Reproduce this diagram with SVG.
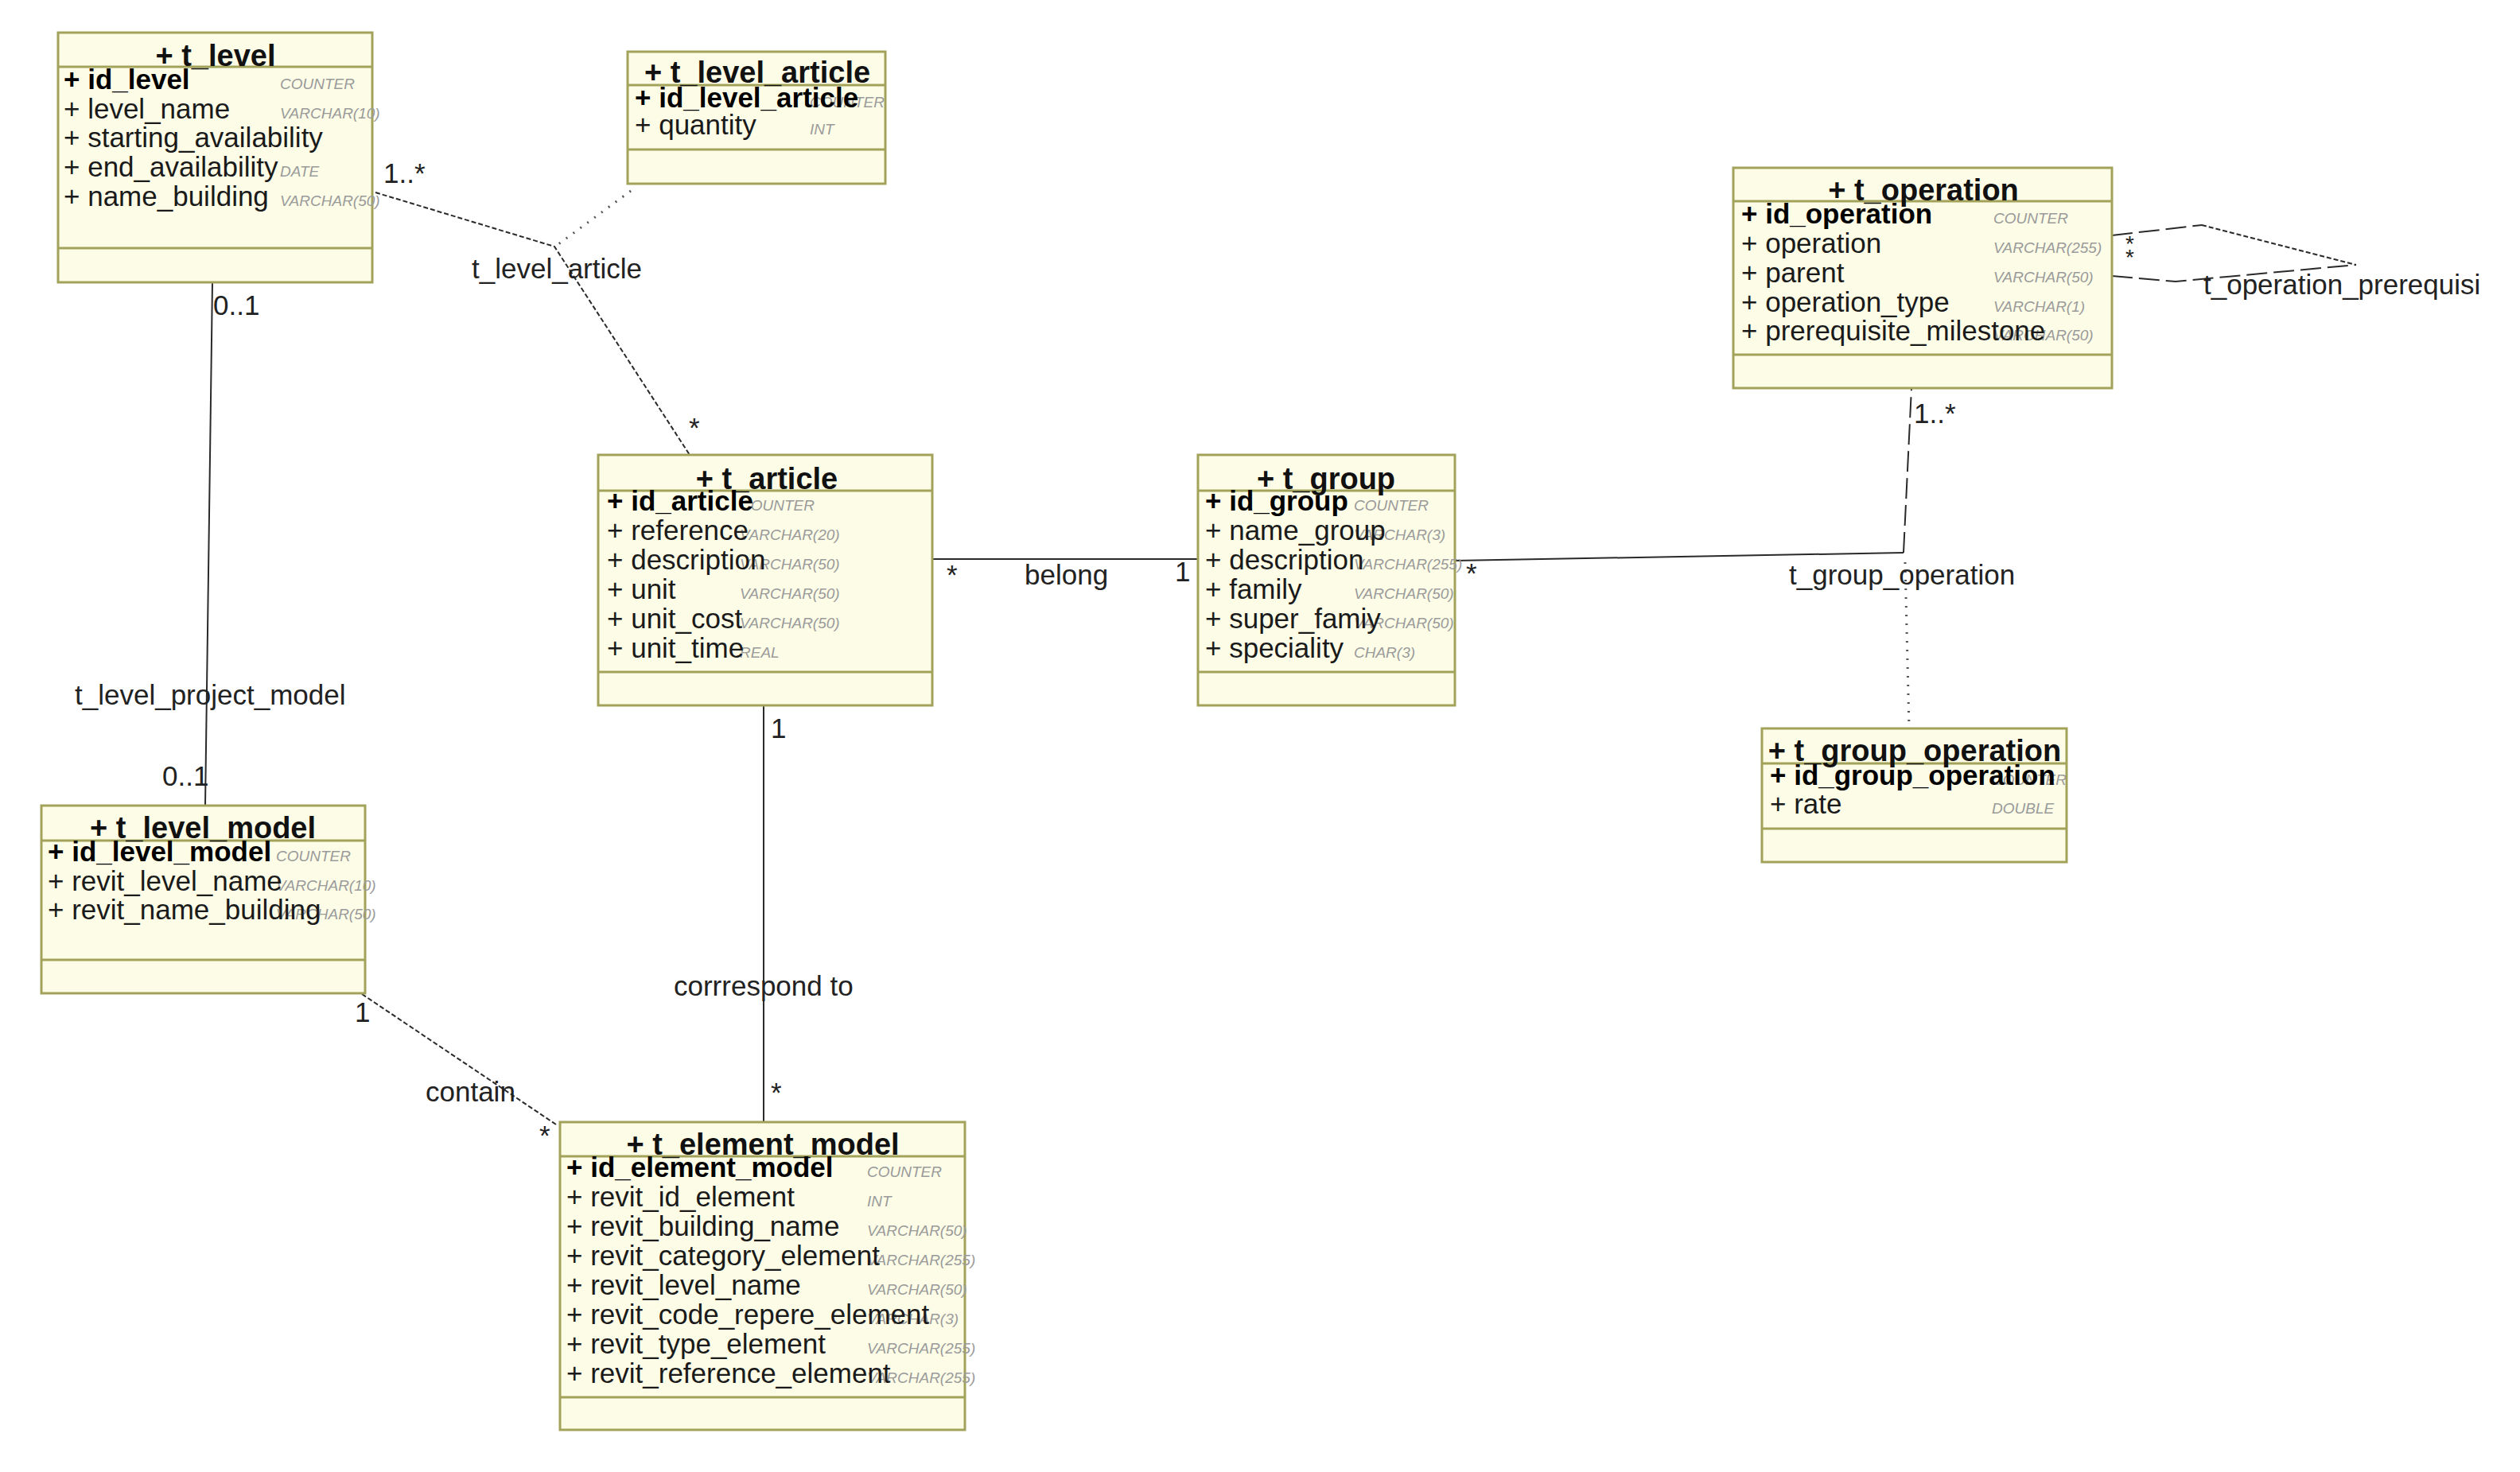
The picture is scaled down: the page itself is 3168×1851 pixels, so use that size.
<svg xmlns="http://www.w3.org/2000/svg" width="3168" height="1851" viewBox="0 0 3168 1851">
<style>
.box{fill:#fdfde7;stroke:#a2a25a;stroke-width:3}
.sep{stroke:#a2a25a;stroke-width:3}
.title{font-family:"Liberation Sans",Arial,sans-serif;font-weight:bold;font-size:38px;fill:#111;text-anchor:middle}
.attr{font-family:"Liberation Sans",Arial,sans-serif;font-size:35px;fill:#1a1a1a}
.pk{font-weight:bold;fill:#000}
.type{font-family:"Liberation Sans",Arial,sans-serif;font-style:italic;font-size:19px;fill:#9a9a9a}
.lbl{font-family:"Liberation Sans",Arial,sans-serif;font-size:35px;fill:#222}
.star{font-family:"Liberation Sans",Arial,sans-serif;font-size:28px;fill:#222}
.ln{fill:none;stroke:#2a2a2a;stroke-width:2}
.dash{fill:none;stroke:#2a2a2a;stroke-width:2;stroke-dasharray:26 8}
.fine{fill:none;stroke:#2a2a2a;stroke-width:2;stroke-dasharray:6 3}
.dot{fill:none;stroke:#555;stroke-width:3;stroke-dasharray:2 9}
</style>
<rect width="3168" height="1851" fill="#ffffff"/>

<g id="connectors">
  <polyline class="fine" points="472,242 697,310 867,572"/>
  <line class="dot" x1="793" y1="240" x2="702" y2="307"/>
  <line class="ln" x1="267" y1="355" x2="258" y2="1013"/>
  <line class="fine" x1="455" y1="1250" x2="699" y2="1414"/>
  <line class="ln" x1="960" y1="887" x2="960" y2="1411"/>
  <line class="ln" x1="1172" y1="703" x2="1506" y2="703"/>
  <polyline class="ln" points="1829,705 2393,695"/>
  <polyline class="dash" points="2393,695 2403,488"/>
  <line class="dot" x1="2395" y1="707" x2="2400" y2="916"/>
  <polyline class="dash" points="2655,296 2768,283"/>
  <polyline class="fine" points="2768,283 2962,333"/>
  <polyline class="dash" points="2655,347 2735,354 2962,333"/>

  <text class="lbl" x="482" y="230">1..*</text>
  <text class="lbl" x="593" y="350">t_level_article</text>
  <text class="lbl" x="866" y="550">*</text>
  <text class="lbl" x="268" y="396">0..1</text>
  <text class="lbl" x="94" y="886">t_level_project_model</text>
  <text class="lbl" x="204" y="988">0..1</text>
  <text class="lbl" x="446" y="1285">1</text>
  <text class="lbl" x="535" y="1385">contain</text>
  <text class="lbl" x="678" y="1440">*</text>
  <text class="lbl" x="969" y="928">1</text>
  <text class="lbl" x="847" y="1252">corrrespond to</text>
  <text class="lbl" x="969" y="1386">*</text>
  <text class="lbl" x="1190" y="735">*</text>
  <text class="lbl" x="1288" y="735">belong</text>
  <text class="lbl" x="1477" y="731">1</text>
  <text class="lbl" x="1843" y="733">*</text>
  <text class="lbl" x="2406" y="532">1..*</text>
  <text class="lbl" x="2249" y="735">t_group_operation</text>
  <text class="star" x="2672" y="316">*</text>
  <text class="star" x="2672" y="333">*</text>
  <text class="lbl" x="2770" y="370">t_operation_prerequisi</text>
</g>

<g id="t_level">
  <rect class="box" x="73" y="41" width="395" height="314"/>
  <line class="sep" x1="73" y1="84" x2="468" y2="84"/>
  <line class="sep" x1="73" y1="312" x2="468" y2="312"/>
  <text class="title" x="271" y="83">+ t_level</text>
  <text class="type" x="352" y="112">COUNTER</text>
  <text class="type" x="352" y="149">VARCHAR(10)</text>
  <text class="type" x="352" y="222">DATE</text>
  <text class="type" x="352" y="259">VARCHAR(50)</text>
  <text class="attr pk" x="80" y="112">+ id_level</text>
  <text class="attr" x="80" y="149">+ level_name</text>
  <text class="attr" x="80" y="185">+ starting_availability</text>
  <text class="attr" x="80" y="222">+ end_availability</text>
  <text class="attr" x="80" y="259">+ name_building</text>
</g>

<g id="t_level_article">
  <rect class="box" x="789" y="65" width="324" height="166"/>
  <line class="sep" x1="789" y1="107" x2="1113" y2="107"/>
  <line class="sep" x1="789" y1="188" x2="1113" y2="188"/>
  <text class="title" x="952" y="104">+ t_level_article</text>
  <text class="type" x="1018" y="135">COUNTER</text>
  <text class="type" x="1018" y="169">INT</text>
  <text class="attr pk" x="798" y="135">+ id_level_article</text>
  <text class="attr" x="798" y="169">+ quantity</text>
</g>

<g id="t_operation">
  <rect class="box" x="2179" y="211" width="476" height="277"/>
  <line class="sep" x1="2179" y1="253" x2="2655" y2="253"/>
  <line class="sep" x1="2179" y1="446" x2="2655" y2="446"/>
  <text class="title" x="2418" y="252">+ t_operation</text>
  <text class="type" x="2506" y="281">COUNTER</text>
  <text class="type" x="2506" y="318">VARCHAR(255)</text>
  <text class="type" x="2506" y="355">VARCHAR(50)</text>
  <text class="type" x="2506" y="392">VARCHAR(1)</text>
  <text class="type" x="2506" y="428">VARCHAR(50)</text>
  <text class="attr pk" x="2189" y="281">+ id_operation</text>
  <text class="attr" x="2189" y="318">+ operation</text>
  <text class="attr" x="2189" y="355">+ parent</text>
  <text class="attr" x="2189" y="392">+ operation_type</text>
  <text class="attr" x="2189" y="428">+ prerequisite_milestone</text>
</g>

<g id="t_article">
  <rect class="box" x="752" y="572" width="420" height="315"/>
  <line class="sep" x1="752" y1="617" x2="1172" y2="617"/>
  <line class="sep" x1="752" y1="845" x2="1172" y2="845"/>
  <text class="title" x="964" y="615">+ t_article</text>
  <text class="type" x="930" y="642">COUNTER</text>
  <text class="type" x="930" y="679">VARCHAR(20)</text>
  <text class="type" x="930" y="716">VARCHAR(50)</text>
  <text class="type" x="930" y="753">VARCHAR(50)</text>
  <text class="type" x="930" y="790">VARCHAR(50)</text>
  <text class="type" x="930" y="827">REAL</text>
  <text class="attr pk" x="763" y="642">+ id_article</text>
  <text class="attr" x="763" y="679">+ reference</text>
  <text class="attr" x="763" y="716">+ description</text>
  <text class="attr" x="763" y="753">+ unit</text>
  <text class="attr" x="763" y="790">+ unit_cost</text>
  <text class="attr" x="763" y="827">+ unit_time</text>
</g>

<g id="t_group">
  <rect class="box" x="1506" y="572" width="323" height="315"/>
  <line class="sep" x1="1506" y1="617" x2="1829" y2="617"/>
  <line class="sep" x1="1506" y1="845" x2="1829" y2="845"/>
  <text class="title" x="1667" y="615">+ t_group</text>
  <text class="type" x="1702" y="642">COUNTER</text>
  <text class="type" x="1702" y="679">VARCHAR(3)</text>
  <text class="type" x="1702" y="716">VARCHAR(255)</text>
  <text class="type" x="1702" y="753">VARCHAR(50)</text>
  <text class="type" x="1702" y="790">VARCHAR(50)</text>
  <text class="type" x="1702" y="827">CHAR(3)</text>
  <text class="attr pk" x="1515" y="642">+ id_group</text>
  <text class="attr" x="1515" y="679">+ name_group</text>
  <text class="attr" x="1515" y="716">+ description</text>
  <text class="attr" x="1515" y="753">+ family</text>
  <text class="attr" x="1515" y="790">+ super_famiy</text>
  <text class="attr" x="1515" y="827">+ speciality</text>
</g>

<g id="t_group_operation">
  <rect class="box" x="2215" y="916" width="383" height="168"/>
  <line class="sep" x1="2215" y1="960" x2="2598" y2="960"/>
  <line class="sep" x1="2215" y1="1042" x2="2598" y2="1042"/>
  <text class="title" x="2407" y="957">+ t_group_operation</text>
  <text class="type" x="2504" y="987">COUNTER</text>
  <text class="type" x="2504" y="1023">DOUBLE</text>
  <text class="attr pk" x="2225" y="987">+ id_group_operation</text>
  <text class="attr" x="2225" y="1023">+ rate</text>
</g>

<g id="t_level_model">
  <rect class="box" x="52" y="1013" width="407" height="236"/>
  <line class="sep" x1="52" y1="1057" x2="459" y2="1057"/>
  <line class="sep" x1="52" y1="1207" x2="459" y2="1207"/>
  <text class="title" x="255" y="1054">+ t_level_model</text>
  <text class="type" x="347" y="1083">COUNTER</text>
  <text class="type" x="347" y="1120">VARCHAR(10)</text>
  <text class="type" x="347" y="1156">VARCHAR(50)</text>
  <text class="attr pk" x="60" y="1083">+ id_level_model</text>
  <text class="attr" x="60" y="1120">+ revit_level_name</text>
  <text class="attr" x="60" y="1156">+ revit_name_building</text>
</g>

<g id="t_element_model">
  <rect class="box" x="704" y="1411" width="509" height="387"/>
  <line class="sep" x1="704" y1="1454" x2="1213" y2="1454"/>
  <line class="sep" x1="704" y1="1757" x2="1213" y2="1757"/>
  <text class="title" x="959" y="1452">+ t_element_model</text>
  <text class="type" x="1090" y="1480">COUNTER</text>
  <text class="type" x="1090" y="1517">INT</text>
  <text class="type" x="1090" y="1554">VARCHAR(50)</text>
  <text class="type" x="1090" y="1591">VARCHAR(255)</text>
  <text class="type" x="1090" y="1628">VARCHAR(50)</text>
  <text class="type" x="1090" y="1665">VARCHAR(3)</text>
  <text class="type" x="1090" y="1702">VARCHAR(255)</text>
  <text class="type" x="1090" y="1739">VARCHAR(255)</text>
  <text class="attr pk" x="712" y="1480">+ id_element_model</text>
  <text class="attr" x="712" y="1517">+ revit_id_element</text>
  <text class="attr" x="712" y="1554">+ revit_building_name</text>
  <text class="attr" x="712" y="1591">+ revit_category_element</text>
  <text class="attr" x="712" y="1628">+ revit_level_name</text>
  <text class="attr" x="712" y="1665">+ revit_code_repere_element</text>
  <text class="attr" x="712" y="1702">+ revit_type_element</text>
  <text class="attr" x="712" y="1739">+ revit_reference_element</text>
</g>
</svg>
